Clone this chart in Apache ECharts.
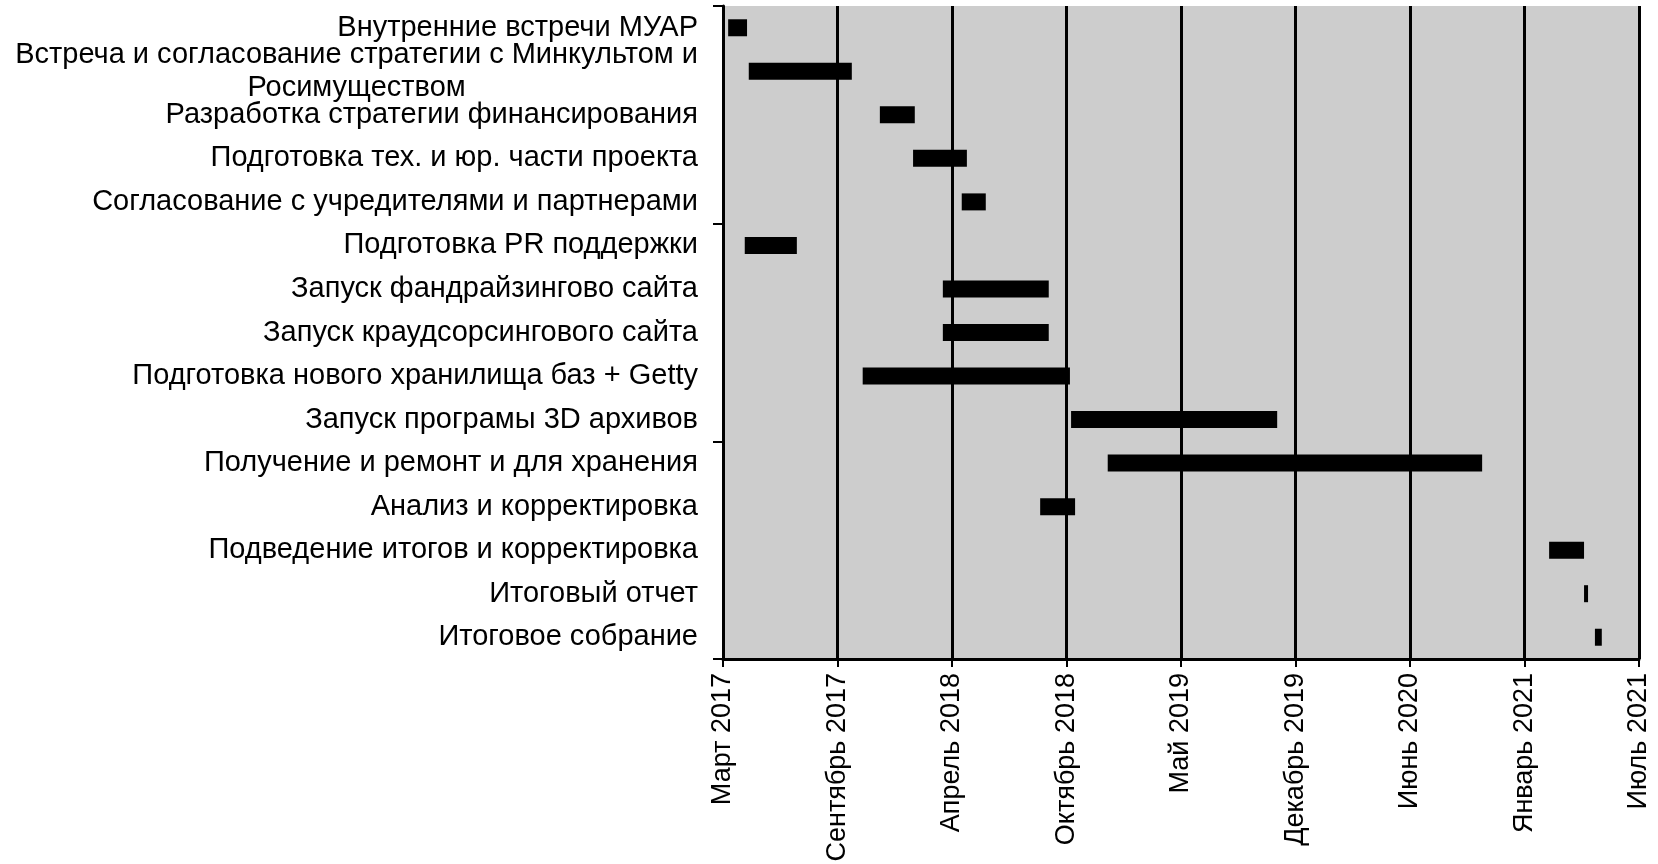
<!DOCTYPE html>
<html>
<head>
<meta charset="utf-8">
<script src="https://cdn.jsdelivr.net/npm/echarts@6/dist/echarts.min.js"></script>
<style>
html,body{margin:0;padding:0;background:#fff;}
#chart{width:1658px;height:864px;}
</style>
</head>
<body>
<div id="chart"></div>
<script>
// Tasks (top to bottom)
const tasks = [
  "Внутренние встречи МУАР",
  "Встреча и согласование стратегии с Минкультом и\nРосимуществом",
  "Разработка стратегии финансирования",
  "Подготовка тех. и юр. части проекта",
  "Согласование с учредителями и партнерами",
  "Подготовка PR поддержки",
  "Запуск фандрайзингово сайта",
  "Запуск краудсорсингового сайта",
  "Подготовка нового хранилища баз + Getty",
  "Запуск програмы 3D архивов",
  "Получение и ремонт и для хранения",
  "Анализ и корректировка",
  "Подведение итогов и корректировка",
  "Итоговый отчет",
  "Итоговое собрание"
];
const startDates = [
  "2017-03-15", "2017-04-20", "2017-12-05", "2018-02-01", "2018-04-27",
  "2017-04-13", "2018-03-25", "2018-03-25", "2017-11-05", "2018-11-04",
  "2019-01-07", "2018-09-11", "2021-02-16", "2021-04-18", "2021-05-07"
];
const endDates = [
  "2017-04-17", "2017-10-17", "2018-02-04", "2018-05-06", "2018-06-08",
  "2017-07-13", "2018-09-26", "2018-09-26", "2018-11-02", "2019-10-30",
  "2020-10-22", "2018-11-11", "2021-04-18", "2021-04-25", "2021-05-19"
];
// x-axis tick labels (Excel date serials 42800 .. 44400 step 200)
const tickLabels = [
  "Март 2017", "Сентябрь 2017", "Апрель 2018", "Октябрь 2018", "Май 2019",
  "Декабрь 2019", "Июнь 2020", "Январь 2021", "Июль 2021"
];
const axisMin = 42800, axisMax = 44400, axisStep = 200;

function serial(s) {
  const p = s.split("-").map(Number);
  return Date.UTC(p[0], p[1] - 1, p[2]) / 86400000 + 25569;
}
const starts = startDates.map(serial);
const durations = endDates.map((e, i) => serial(e) - starts[i]);

const font = "'Liberation Sans', Arial, sans-serif";
const chart = echarts.init(document.getElementById('chart'), null, {renderer: 'canvas'});
chart.setOption({
  animation: false,
  backgroundColor: '#ffffff',
  grid: {
    left: 723, right: 19, top: 6, bottom: 205,
    containLabel: false, outerBoundsMode: 'none',
    show: true, backgroundColor: '#cdcdcd', borderWidth: 0
  },
  xAxis: {
    type: 'value',
    min: axisMin, max: axisMax, interval: axisStep,
    axisLine: {show: true, lineStyle: {color: '#000', width: 3}},
    axisTick: {show: true, length: 8, lineStyle: {color: '#000', width: 2}},
    splitLine: {show: true, lineStyle: {color: '#000', width: 3}},
    axisLabel: {
      rotate: 90, margin: 14, fontSize: 27, color: '#000', fontFamily: font,
      formatter: v => tickLabels[Math.round((v - axisMin) / axisStep)] || ''
    }
  },
  yAxis: {
    type: 'category',
    inverse: true,
    data: tasks,
    axisLine: {show: true, lineStyle: {color: '#000', width: 3}},
    axisTick: {show: true, interval: i => i % 5 === 0, length: 10, lineStyle: {color: '#000', width: 2}},
    splitLine: {show: false},
    axisLabel: {
      interval: 0, margin: 25, fontSize: 29, lineHeight: 33, color: '#000', fontFamily: font,
      formatter: v => v.indexOf('\n') >= 0
        ? v.split('\n').map(l => '{c|' + l + '}').join('\n')
        : v,
      rich: {
        c: {align: 'center', fontSize: 29, lineHeight: 33, color: '#000', fontFamily: font}
      }
    }
  },
  series: [
    {
      type: 'bar', stack: 'g', data: starts, barWidth: 17,
      itemStyle: {color: 'rgba(0,0,0,0)'}, silent: true
    },
    {
      type: 'bar', stack: 'g', data: durations, barWidth: 17,
      itemStyle: {color: '#000'}
    }
  ]
});
</script>
</body>
</html>
